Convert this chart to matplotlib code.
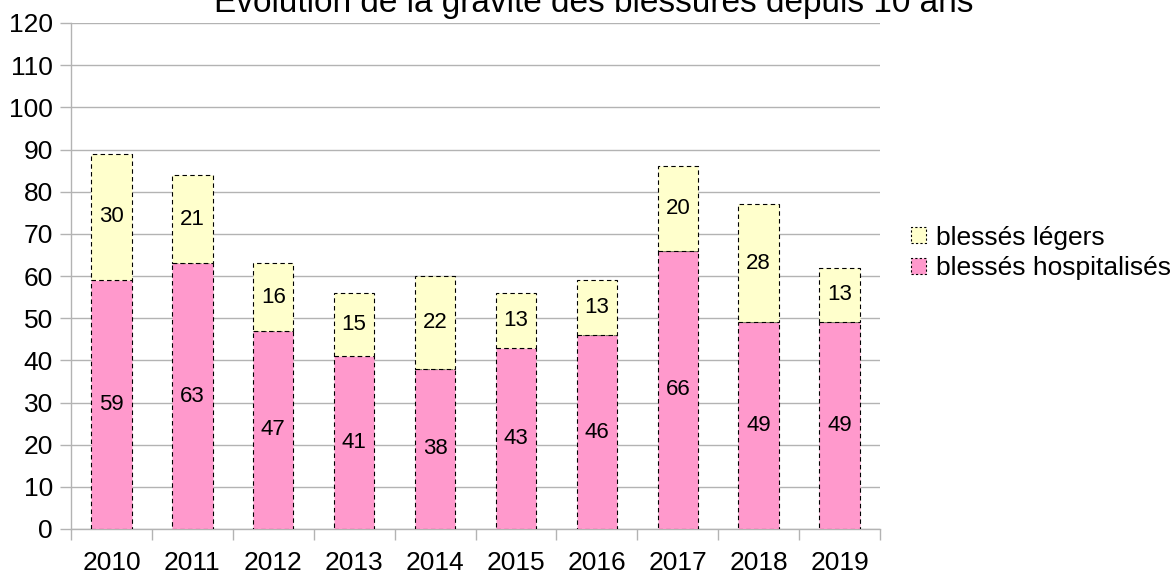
import matplotlib
matplotlib.use("Agg")
import matplotlib.pyplot as plt
import numpy as np
from matplotlib.patches import Patch

years = ["2010", "2011", "2012", "2013", "2014", "2015", "2016", "2017", "2018", "2019"]
hospitalises = [59, 63, 47, 41, 38, 43, 46, 66, 49, 49]
legers = [30, 21, 16, 15, 22, 13, 13, 20, 28, 13]

plt.rcParams['font.family'] = ['Liberation Sans', 'DejaVu Sans']

fig = plt.figure(figsize=(11.74, 5.74), dpi=100)
ax = fig.add_axes([71/1174, 1-529/574, (880-71)/1174, (529-23)/574])

pink = "#ff99cc"
yellow = "#ffffcc"
grid_c = "#b3b3b3"

x = np.arange(len(years))
ax.bar(x, hospitalises, width=0.5, color=pink, edgecolor="black", linestyle=(0, (4, 3)), linewidth=0.8, zorder=3)
ax.bar(x, legers, width=0.5, bottom=hospitalises, color=yellow, edgecolor="black", linestyle=(0, (4, 3)), linewidth=0.8, zorder=3)

for i in range(len(years)):
    ax.text(x[i], hospitalises[i] / 2, str(hospitalises[i]), ha="center", va="center", fontsize=16, zorder=4)
    ax.text(x[i], hospitalises[i] + legers[i] / 2, str(legers[i]), ha="center", va="center", fontsize=16, zorder=4)

ax.set_xlim(-0.5, len(years) - 0.5)
ax.set_ylim(0, 120)
ax.set_yticks(range(0, 121, 10))
ax.tick_params(axis="y", labelsize=19, length=8, color=grid_c, width=1, pad=5)
ax.set_xticks(x)
ax.set_xticklabels(years)
ax.set_xticks(np.arange(-0.5, len(years), 1), minor=True)
ax.tick_params(axis="x", which="major", length=0, labelsize=19, pad=16)
ax.tick_params(axis="x", which="minor", length=8, color=grid_c, width=1)
ax.yaxis.grid(True, color=grid_c, linewidth=1, zorder=0)
ax.set_axisbelow(True)
for s in ["top", "right"]:
    ax.spines[s].set_visible(False)
for s in ["left", "bottom"]:
    ax.spines[s].set_color(grid_c)
    ax.spines[s].set_linewidth(1)

fig.text(594/1174, 1 - 12/574, "Évolution de la gravité des blessures depuis 10 ans", ha="center", va="baseline", fontsize=24)

handles = [Patch(facecolor=yellow, edgecolor="black", linestyle=(0, (2, 2)), linewidth=0.8, label="blessés légers"),
           Patch(facecolor=pink, edgecolor="black", linestyle=(0, (2, 2)), linewidth=0.8, label="blessés hospitalisés")]
fig.legend(handles=handles, loc="center left", bbox_to_anchor=(911/1174, 1 - 253/574), frameon=False,
           fontsize=19, handlelength=0.55, handleheight=0.55, handletextpad=0.4, labelspacing=0.25, borderaxespad=0, borderpad=0)

fig.savefig("out.png", dpi=100)
